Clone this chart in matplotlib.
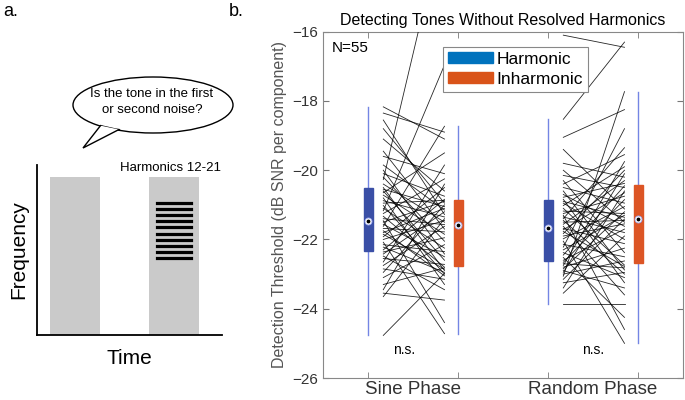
import matplotlib.pyplot as plt
from matplotlib.patches import Ellipse, Polygon, Rectangle, Patch

plt.rcParams['font.family'] = ['Liberation Sans', 'DejaVu Sans']

# Detection thresholds (dB SNR per component), one pair per participant (N=55)
sine_harm = [-24.77, -23.65, -23.55, -23.45, -23.3, -23.1, -22.95, -22.85, -22.75, -22.65,
             -22.55, -22.48, -22.42, -22.36, -22.3, -22.22, -22.15, -22.08, -22.0, -21.92,
             -21.85, -21.8, -21.75, -21.68, -21.62, -21.56, -21.5, -21.46, -21.4, -21.33,
             -21.25, -21.17, -21.1, -21.02, -20.95, -20.88, -20.8, -20.72, -20.65, -20.6,
             -20.55, -20.5, -20.4, -20.27, -20.2, -20.1, -20.0, -19.85, -19.6, -19.45,
             -19.1, -18.8, -18.55, -18.35, -18.17]
sine_inharm = [-22.98, -21.4, -23.75, -20.4, -22.82, -22.15, -21.0, -23.15, -21.62, -19.85,
               -22.72, -23.45, -21.2, -21.95, -20.84, -22.95, -22.35, -24.72, -21.45, -20.5,
               -22.86, -21.1, -23.05, -21.78, -18.73, -22.5, -20.9, -24.4, -21.57, -22.8,
               -20.25, -16.96, -22.25, -23.0, -20.87, -21.35, -23.3, -21.85, -19.5, -22.6,
               -21.05, -22.9, -21.5, -12.8, -22.05, -20.75, -22.42, -21.15, -20.1, -21.7,
               -20.6, -20.95, -21.28, -18.9, -19.1]
rand_harm = [-23.85, -23.55, -23.4, -23.25, -23.15, -23.06, -23.0, -22.95, -22.9, -22.85,
             -22.8, -22.75, -22.7, -22.66, -22.6, -22.52, -22.45, -22.38, -22.3, -22.22,
             -22.14, -22.05, -21.98, -21.9, -21.83, -21.77, -21.72, -21.68, -21.62, -21.56,
             -21.5, -21.45, -21.4, -21.35, -21.3, -21.25, -21.18, -21.1, -21.02, -20.95,
             -20.9, -20.84, -20.78, -20.7, -20.6, -20.5, -20.4, -20.3, -20.15, -20.0,
             -19.8, -19.4, -19.05, -18.53, -16.1]
rand_inharm = [-23.85, -21.9, -20.6, -22.95, -21.41, -17.73, -22.62, -20.1, -23.4, -21.2,
               -22.25, -19.75, -22.82, -20.85, -21.7, -24.25, -20.45, -23.1, -21.3, -18.8,
               -22.5, -25.0, -21.05, -21.55, -20.0, -22.78, -20.65, -22.12, -23.6, -20.3,
               -21.45, -23.0, -19.35, -21.8, -24.6, -20.75, -21.25, -22.74, -19.9, -22.0,
               -21.36, -23.25, -20.38, -21.62, -22.88, -20.95, -19.55, -22.38, -20.5, -21.5,
               -20.2, -21.12, -18.25, -16.3, -16.45]

conditions = ['Sine Phase', 'Random Phase']
series = ['Harmonic', 'Inharmonic']
harmonic_numbers = [12, 13, 14, 15, 16, 17, 18, 19, 20, 21]

harm_box = '#3a4fa6'
inharm_box = '#dc5525'
whisk = '#7485e4'

fig = plt.figure(figsize=(6.85, 4.0), dpi=100)

# ---------------- panel b ----------------
ax = fig.add_axes([323 / 685, 22 / 400, 360 / 685, 346.3 / 400])

data = [sine_harm, sine_inharm, rand_harm, rand_inharm]
positions = [1, 2, 3, 4]
box_colors = [harm_box, inharm_box, harm_box, inharm_box]

bp = ax.boxplot(data, positions=positions, widths=0.1, patch_artist=True,
                showfliers=False, showcaps=False, manage_ticks=False,
                whiskerprops=dict(color=whisk, lw=1),
                medianprops=dict(lw=0))
for patch, c in zip(bp['boxes'], box_colors):
    patch.set_facecolor(c)
    patch.set_edgecolor(c)
    patch.set_zorder(4)
for pos, med in zip(positions, bp['medians']):
    y = med.get_ydata()[0]
    ax.scatter(pos, y, s=26, facecolor='white', edgecolor='#9aa6ee', lw=0.6, zorder=6)
    ax.scatter(pos, y, s=3, color='k', zorder=7)

# paired lines for each participant
for pos, h, inh in [(1, sine_harm, sine_inharm), (3, rand_harm, rand_inharm)]:
    for a, b in zip(h, inh):
        ax.plot([pos + 0.17, pos + 0.85], [a, b], color='k', lw=0.6, alpha=0.85, zorder=3)

ax.set_xlim(0.5, 4.5)
ax.set_ylim(-26, -16)
ax.set_yticks([-26, -24, -22, -20, -18, -16])
ax.set_xticks([1.5, 3.5])
ax.set_xticklabels(conditions, fontsize=13.5, color='#333333')
ax.set_xticks(positions, minor=True)
ax.tick_params(axis='x', which='major', length=0, pad=2)
ax.tick_params(axis='x', which='minor', direction='in', top=True, length=4, color='#777777')
ax.tick_params(axis='y', direction='in', right=True, length=4, labelsize=11,
               color='#777777', labelcolor='#333333')
for s in ax.spines.values():
    s.set_color('#888888')
    s.set_linewidth(0.8)

ax.set_ylabel('Detection Threshold (dB SNR per component)', fontsize=11.5, color='#555555')
ax.set_title('Detecting Tones Without Resolved Harmonics', fontsize=11.5, pad=5)
ax.text(0.025, 0.953, 'N=55', transform=ax.transAxes, fontsize=11, va='center')
ax.text(1.4, -25.2, 'n.s.', ha='center', va='center', fontsize=10)
ax.text(3.5, -25.2, 'n.s.', ha='center', va='center', fontsize=10)

handles = [Patch(facecolor='#0072BD', edgecolor='#0072BD'),
           Patch(facecolor='#D95319', edgecolor='#D95319')]
leg = ax.legend(handles, series, loc='upper left', bbox_to_anchor=(0.3325, 0.957),
                fontsize=12.5, handlelength=2.6, handleheight=0.6, handletextpad=0.2,
                borderpad=0.3, labelspacing=0.3, fancybox=False, edgecolor='#888888',
                framealpha=1, borderaxespad=0)
leg.get_frame().set_linewidth(0.8)

# ---------------- panel a (schematic, pixel coords) ----------------
axa = fig.add_axes([0, 0, 250 / 685, 1])
axa.set_xlim(0, 250)
axa.set_ylim(400, 0)
axa.axis('off')

axa.add_patch(Ellipse((153, 105), 160, 56, fc='white', ec='k', lw=1, zorder=2))
axa.add_patch(Polygon([(101, 125), (83, 148), (120, 129)], closed=True,
                      fc='white', ec='k', lw=1, zorder=3))
axa.add_patch(Ellipse((153, 105), 157, 53, fc='white', ec='none', zorder=4))
axa.text(152, 102, 'Is the tone in the first\nor second noise?', ha='center', va='center',
         fontsize=9.5, linespacing=1.4, zorder=5,
         family=['Liberation Sans Narrow', 'Liberation Sans', 'DejaVu Sans'])

axa.add_patch(Rectangle((50, 177), 50, 158, fc='#cacaca', ec='none'))
axa.add_patch(Rectangle((149, 177), 50, 158, fc='#cacaca', ec='none'))
for h in harmonic_numbers:
    y = 258 - (h - 12) * 55 / 9
    axa.plot([157, 191], [y, y], color='k', lw=2.3)

axa.plot([36.7, 36.7], [165, 335], color='k', lw=1.3)
axa.plot([36.7, 221.7], [335, 335], color='k', lw=1.3)
axa.text(171, 168, 'Harmonics 12-21', ha='center', va='center', fontsize=9.5)
axa.text(19, 250, 'Frequency', rotation=90, ha='center', va='center', fontsize=15)
axa.text(129, 358, 'Time', ha='center', va='center', fontsize=15)

fig.text(3 / 685, 1 - 11 / 400, 'a.', fontsize=13, va='center')
fig.text(229 / 685, 1 - 11 / 400, 'b.', fontsize=13, va='center')

fig.savefig('out.png', dpi=100)
